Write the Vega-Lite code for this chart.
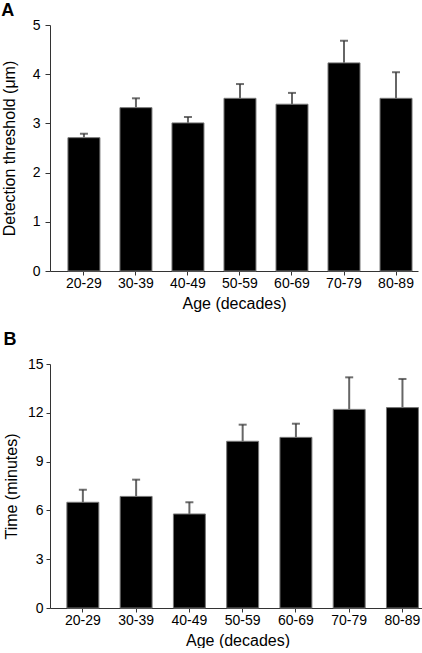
{
  "$schema": "https://vega.github.io/schema/vega-lite/v6.json",
  "padding": {"left": 1, "top": 2, "right": 0, "bottom": 0},
  "background": "white",
  "spacing": 20,
  "align": "none",
  "config": {
    "view": {"stroke": null},
    "font": "Liberation Sans",
    "axis": {"grid": false, "domainColor": "#333", "tickColor": "#333", "labelColor": "#000", "titleColor": "#000", "labelFont": "Liberation Sans", "titleFont": "Liberation Sans", "labelFontSize": 14, "titleFontSize": 16, "titleFontWeight": "normal"},
    "title": {"font": "Liberation Sans", "fontSize": 18, "fontWeight": "bold", "anchor": "start", "frame": "bounds", "color": "#000"}
  },
  "datasets": {
    "a": [
      {"age": "20-29", "mean": 2.71, "upper": 2.79},
      {"age": "30-39", "mean": 3.32, "upper": 3.51},
      {"age": "40-49", "mean": 3.01, "upper": 3.13},
      {"age": "50-59", "mean": 3.51, "upper": 3.8},
      {"age": "60-69", "mean": 3.39, "upper": 3.62},
      {"age": "70-79", "mean": 4.23, "upper": 4.68},
      {"age": "80-89", "mean": 3.51, "upper": 4.04}
    ],
    "b": [
      {"age": "20-29", "mean": 6.5, "upper": 7.27},
      {"age": "30-39", "mean": 6.86, "upper": 7.89},
      {"age": "40-49", "mean": 5.78, "upper": 6.5},
      {"age": "50-59", "mean": 10.25, "upper": 11.27},
      {"age": "60-69", "mean": 10.49, "upper": 11.33},
      {"age": "70-79", "mean": 12.21, "upper": 14.18},
      {"age": "80-89", "mean": 12.32, "upper": 14.08}
    ]
  },
  "vconcat": [
    {
      "title": {"text": "A", "offset": -2},
      "width": 368,
      "height": 246,
      "data": {"name": "a"},
      "encoding": {
        "x": {"field": "age", "type": "nominal", "sort": null,
          "scale": {"paddingInner": 0.385, "paddingOuter": 0.23, "align": 0.75},
          "axis": {"title": "Age (decades)", "labelAngle": 0, "tickSize": 4, "labelPadding": 1, "titlePadding": 5}}
      },
      "layer": [
        {"mark": {"type": "rule", "color": "#666", "strokeWidth": 2},
         "encoding": {"y": {"field": "mean", "type": "quantitative"}, "y2": {"field": "upper"}}},
        {"mark": {"type": "tick", "color": "#333", "size": 8, "thickness": 2},
         "encoding": {"y": {"field": "upper", "type": "quantitative"}}},
        {"mark": {"type": "bar", "color": "#000", "stroke": "#777", "strokeWidth": 1},
         "encoding": {"y": {"field": "mean", "type": "quantitative",
           "scale": {"domain": [0, 5], "nice": false},
           "axis": {"title": "Detection threshold (μm)", "values": [0,1,2,3,4,5], "tickSize": 5, "labelPadding": 5, "titlePadding": 15}}}}
      ]
    },
    {
      "title": {"text": "B", "offset": 8},
      "width": 375,
      "height": 244,
      "data": {"name": "b"},
      "encoding": {
        "x": {"field": "age", "type": "nominal", "sort": null,
          "scale": {"paddingInner": 0.4, "paddingOuter": 0.22, "align": 0.72},
          "axis": {"title": "Age (decades)", "labelAngle": 0, "tickSize": 4, "labelPadding": 1, "titlePadding": 5}}
      },
      "layer": [
        {"mark": {"type": "rule", "color": "#666", "strokeWidth": 2},
         "encoding": {"y": {"field": "mean", "type": "quantitative"}, "y2": {"field": "upper"}}},
        {"mark": {"type": "tick", "color": "#333", "size": 8, "thickness": 2},
         "encoding": {"y": {"field": "upper", "type": "quantitative"}}},
        {"mark": {"type": "bar", "color": "#000", "stroke": "#777", "strokeWidth": 1},
         "encoding": {"y": {"field": "mean", "type": "quantitative",
           "scale": {"domain": [0, 15], "nice": false},
           "axis": {"title": "Time (minutes)", "values": [0,3,6,9,12,15], "tickSize": 4, "labelPadding": 3, "titlePadding": 8}}}}
      ]
    }
  ]
}
